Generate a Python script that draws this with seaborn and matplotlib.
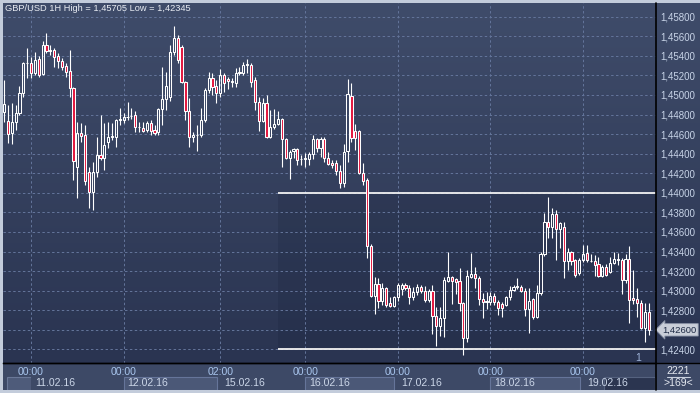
import numpy as np
import pandas as pd
import matplotlib
matplotlib.use("Agg")
import matplotlib.pyplot as plt
import seaborn as sns
from matplotlib.colors import LinearSegmentedColormap
from matplotlib.patches import Rectangle
from matplotlib.lines import Line2D
from matplotlib.ticker import FuncFormatter

# ---------------- data (GBP/USD, 1H candles) ----------------
opens = [
    1.44826, 1.44738, 1.44612, 1.44724, 1.44816, 1.45020, 1.45322, 1.45327, 1.45225, 1.45368,
    1.45215, 1.45511, 1.45450, 1.45460, 1.45399, 1.45348, 1.45296, 1.45245, 1.45072, 1.44264,
    1.44612, 1.44591, 1.44213, 1.44009, 1.44213, 1.44387, 1.44356, 1.44520, 1.44571, 1.44571,
    1.44745, 1.44745, 1.44775, 1.44785, 1.44796, 1.44673, 1.44663, 1.44642, 1.44714, 1.44642,
    1.44622, 1.44857, 1.44959, 1.44980, 1.45440, 1.45583, 1.45491, 1.45133, 1.44837, 1.44571,
    1.44591, 1.44591, 1.44745, 1.45051, 1.45174, 1.45092, 1.45020,
    1.45205, 1.45164, 1.45133, 1.45123, 1.45225, 1.45225, 1.45307, 1.45307, 1.45153, 1.44928,
    1.44734, 1.44918, 1.44571, 1.44673, 1.44704, 1.44755, 1.44550, 1.44356, 1.44428, 1.44448,
    1.44346, 1.44346, 1.44346, 1.44397, 1.44550, 1.44458, 1.44550, 1.44356, 1.44305, 1.44305,
    1.44223, 1.44101, 1.44428, 1.44990, 1.44632, 1.44632, 1.44203, 1.44131, 1.43457, 1.42946,
    1.43069, 1.42895, 1.43028, 1.42874, 1.42844, 1.42936, 1.43018, 1.43058, 1.43028, 1.42936,
    1.42987, 1.43038, 1.42997, 1.42905, 1.42997,
    1.42742, 1.42640, 1.42721, 1.43099, 1.43140, 1.43120, 1.43099, 1.42874, 1.42517, 1.43140,
    1.43171, 1.43130, 1.42915, 1.42885, 1.42885, 1.42946, 1.42885, 1.42864, 1.42854, 1.42936,
    1.43007, 1.43038, 1.43038, 1.42997, 1.42813, 1.42915, 1.42731, 1.42977, 1.43375, 1.43702,
    1.43651, 1.43784, 1.43631, 1.43651, 1.43304, 1.43395, 1.43314, 1.43181, 1.43314, 1.43385,
    1.43304, 1.43304, 1.43273, 1.43150, 1.43242, 1.43191, 1.43283, 1.43314, 1.43314, 1.43110,
    1.43324, 1.42926, 1.42915, 1.42874, 1.42619, 1.42782,
]
highs = [
    1.45153, 1.44898, 1.44918, 1.44898, 1.45092, 1.45337, 1.45480, 1.45388, 1.45440, 1.45399,
    1.45552, 1.45634, 1.45511, 1.45480, 1.45429, 1.45378, 1.45327, 1.45460, 1.45082, 1.44724,
    1.44714, 1.44693, 1.44264, 1.44315, 1.44571, 1.44796, 1.44714, 1.44724, 1.44714, 1.44755,
    1.44867, 1.44816, 1.44928, 1.44867, 1.44837, 1.44724, 1.44724, 1.44734, 1.44745, 1.44693,
    1.44867, 1.45286, 1.45235, 1.45511, 1.45705, 1.45613, 1.45511, 1.45143, 1.44969, 1.44622,
    1.44693, 1.44867, 1.45072, 1.45235, 1.45225, 1.45153, 1.45266,
    1.45225, 1.45184, 1.45174, 1.45276, 1.45286, 1.45337, 1.45368, 1.45327, 1.45184, 1.44980,
    1.44969, 1.45000, 1.44847, 1.44857, 1.44837, 1.44765, 1.44561, 1.44438, 1.44458, 1.44458,
    1.44387, 1.44407, 1.44417, 1.44591, 1.44561, 1.44571, 1.44571, 1.44417, 1.44336, 1.44336,
    1.44285, 1.44499, 1.45164, 1.45123, 1.44704, 1.44642, 1.44305, 1.44152, 1.43477, 1.43140,
    1.43130, 1.43079, 1.43038, 1.42936, 1.42946, 1.43079, 1.43079, 1.43079, 1.43058, 1.43038,
    1.43069, 1.43058, 1.43048, 1.43018, 1.43058,
    1.42834, 1.42834, 1.43140, 1.43395, 1.43150, 1.43130, 1.43232, 1.42885, 1.43212, 1.43385,
    1.43242, 1.43150, 1.42977, 1.42987, 1.42987, 1.42977, 1.42905, 1.42885, 1.42946, 1.43048,
    1.43058, 1.43130, 1.43058, 1.43028, 1.43028, 1.42926, 1.43058, 1.43395, 1.43794, 1.43958,
    1.43845, 1.43825, 1.43702, 1.43702, 1.43436, 1.43406, 1.43324, 1.43334, 1.43467, 1.43467,
    1.43375, 1.43365, 1.43344, 1.43263, 1.43273, 1.43344, 1.43395, 1.43385, 1.43334, 1.43375,
    1.43457, 1.43212, 1.43028, 1.42905, 1.42874, 1.42874,
]
lows = [
    1.44724, 1.44510, 1.44499, 1.44642, 1.44796, 1.44980, 1.45174, 1.45174, 1.45205, 1.45184,
    1.45205, 1.45429, 1.45409, 1.45286, 1.45276, 1.45256, 1.45184, 1.44980, 1.44131, 1.43948,
    1.44520, 1.44080, 1.43845, 1.43825, 1.44162, 1.44336, 1.44234, 1.44458, 1.44540, 1.44469,
    1.44693, 1.44714, 1.44745, 1.44755, 1.44622, 1.44622, 1.44622, 1.44622, 1.44591, 1.44591,
    1.44591, 1.44693, 1.44847, 1.44939, 1.45409, 1.45327, 1.45123, 1.44745, 1.44469, 1.44520,
    1.44428, 1.44571, 1.44724, 1.45020, 1.45000, 1.44918, 1.44980,
    1.45031, 1.45061, 1.45082, 1.45082, 1.45205, 1.45205, 1.45225, 1.45082, 1.44847, 1.44632,
    1.44724, 1.44561, 1.44561, 1.44653, 1.44693, 1.44264, 1.44346, 1.44142, 1.44356, 1.44285,
    1.44285, 1.44264, 1.44285, 1.44346, 1.44417, 1.44366, 1.44315, 1.44285, 1.44254, 1.44183,
    1.44050, 1.44060, 1.44315, 1.44520, 1.44438, 1.44193, 1.44080, 1.43334, 1.42936, 1.42762,
    1.42823, 1.42854, 1.42834, 1.42834, 1.42834, 1.42895, 1.42956, 1.43007, 1.42864, 1.42905,
    1.42956, 1.42977, 1.42885, 1.42885, 1.42558,
    1.42435, 1.42537, 1.42527, 1.43089, 1.42864, 1.42966, 1.42793, 1.42345, 1.42476, 1.43130,
    1.43028, 1.42854, 1.42721, 1.42813, 1.42854, 1.42854, 1.42752, 1.42731, 1.42844, 1.42905,
    1.42997, 1.43018, 1.42987, 1.42742, 1.42568, 1.42711, 1.42721, 1.42956, 1.43355, 1.43539,
    1.43539, 1.43314, 1.43436, 1.43130, 1.43212, 1.43263, 1.43140, 1.43161, 1.43293, 1.43293,
    1.43293, 1.43150, 1.43140, 1.43140, 1.43150, 1.43181, 1.43273, 1.43263, 1.42966, 1.43079,
    1.42670, 1.42864, 1.42731, 1.42609, 1.42476, 1.42547,
]
closes = [
    1.44908, 1.44601, 1.44724, 1.44816, 1.45020, 1.45327, 1.45327, 1.45225, 1.45358, 1.45205,
    1.45511, 1.45450, 1.45453, 1.45388, 1.45348, 1.45286, 1.45235, 1.45072, 1.44326, 1.44612,
    1.44581, 1.44121, 1.44009, 1.44213, 1.44387, 1.44356, 1.44489, 1.44571, 1.44575, 1.44745,
    1.44750, 1.44775, 1.44780, 1.44790, 1.44673, 1.44668, 1.44632, 1.44714, 1.44632, 1.44612,
    1.44857, 1.44959, 1.45092, 1.45440, 1.45583, 1.45358, 1.45133, 1.44837, 1.44571, 1.44591,
    1.44596, 1.44745, 1.45051, 1.45174, 1.45082, 1.45020, 1.45205,
    1.45123, 1.45143, 1.45138, 1.45225, 1.45230, 1.45307, 1.45312, 1.45133, 1.44928, 1.44734,
    1.44918, 1.44571, 1.44673, 1.44704, 1.44755, 1.44550, 1.44356, 1.44417, 1.44448, 1.44336,
    1.44341, 1.44351, 1.44397, 1.44550, 1.44458, 1.44550, 1.44356, 1.44295, 1.44285, 1.44223,
    1.44101, 1.44417, 1.45010, 1.44561, 1.44561, 1.44203, 1.44121, 1.43457, 1.42946, 1.43069,
    1.42895, 1.43028, 1.42854, 1.42844, 1.42936, 1.43058, 1.43058, 1.43028, 1.42936, 1.42987,
    1.43038, 1.42997, 1.42905, 1.42997, 1.42742,
    1.42640, 1.42721, 1.43110, 1.43140, 1.43099, 1.43089, 1.42874, 1.42517, 1.43150, 1.43171,
    1.43130, 1.42915, 1.42885, 1.42890, 1.42946, 1.42885, 1.42823, 1.42823, 1.42936, 1.43007,
    1.43038, 1.43043, 1.42997, 1.42813, 1.42895, 1.42731, 1.42977, 1.43375, 1.43702, 1.43651,
    1.43784, 1.43631, 1.43692, 1.43304, 1.43395, 1.43304, 1.43161, 1.43314, 1.43375, 1.43314,
    1.43300, 1.43263, 1.43150, 1.43242, 1.43161, 1.43283, 1.43324, 1.43319, 1.43110, 1.43324,
    1.42905, 1.42905, 1.42874, 1.42619, 1.42782, 1.42600,
]

grid_candles = [7, 31, 56, 78, 102, 126, 150]
time_labels = ["00:00", "00:00", "02:00", "00:00", "00:00", "00:00", "00:00"]
date_labels = ["11.02.16", "12.02.16", "15.02.16", "16.02.16", "17.02.16", "18.02.16", "19.02.16"]
price_ticks = [1.424, 1.426, 1.428, 1.430, 1.432, 1.434, 1.436, 1.438, 1.440,
               1.442, 1.444, 1.446, 1.448, 1.450, 1.452, 1.454, 1.456, 1.458]
level_prices = [1.44000, 1.42400]
level_start = 71
title = "GBP/USD 1H High = 1,45705 Low = 1,42345"
last_price = 1.42600
bars_total = "2221"
bars_shown = ">169<"

# ---------------- styling ----------------
sns.set_theme(style="dark")
plt.rcParams['font.family'] = ['Liberation Sans', 'DejaVu Sans']

df = pd.DataFrame({"open": opens, "high": highs, "low": lows, "close": closes})
df["i"] = np.arange(len(df))
df["up"] = df["close"] >= df["open"]
df["blo"] = df[["open", "close"]].min(axis=1)
df["bhi"] = df[["open", "close"]].max(axis=1)
df["bh"] = (df["bhi"] - df["blo"]).clip(lower=0.00005)


def fmt_price(v):
    return f"{v:.5f}".replace('.', ',')


W, H = 700, 393
fig = plt.figure(figsize=(W / 100, H / 100), dpi=100)
fig.patch.set_facecolor('#C3CCDB')


def fbox(x0, y0, x1, y1):
    return [x0 / W, 1 - y1 / H, (x1 - x0) / W, (y1 - y0) / H]


bg_cmap = LinearSegmentedColormap.from_list('bg', ['#2A3451', '#3F4C6A'])
grad = np.linspace(0, 1, 256).reshape(-1, 1)

xlo, xhi = -0.26, 168.9
ylo, yhi = 1.42261, 1.45940

# right price panel background
axr = fig.add_axes(fbox(656, 3, 700, 363), zorder=0)
axr.imshow(grad, aspect='auto', cmap=bg_cmap, origin='lower', extent=[0, 1, 0, 1])
axr.set_axis_off()

# bottom time band
axb = fig.add_axes(fbox(3, 363, 656, 390), zorder=0.5)
axb.set_xlim(xlo, xhi)
axb.set_ylim(27, 0)
axb.set_axis_off()
axb.add_patch(Rectangle((xlo, 0), xhi - xlo, 27, fc='#3D4966', lw=0))
axb.add_patch(Rectangle((0.85, 13.6), grid_candles[0] - 0.85 - 0.1, 13.4,
                        fc='#4E5B7A', ec='#6A7898', lw=0.8))
for k, (start, lab) in enumerate(zip(grid_candles, date_labels)):
    end = grid_candles[k + 1] - 0.9 if k + 1 < len(grid_candles) else start + 5.4
    light = (k % 2 == 1)
    axb.add_patch(Rectangle((start, 13.6), end - start, 13.4,
                            fc='#4B5877' if light else '#3D4966',
                            ec='#66759A' if light else '#3D4966', lw=0.8))
for start, lab in zip(grid_candles, date_labels):
    axb.text(start + 1.0, 20.4, lab, fontsize=7.6, color='#CBD6E8', va='center', ha='left')
axb.add_patch(Rectangle((grid_candles[-1] + 5.4, 13.6), xhi - grid_candles[-1] - 5.6, 13.4,
                        fc='#2B3550', ec='#55627F', lw=0.8))

# corner panel
fig.patches.append(Rectangle((656 / W, 1 - 390 / H), 44 / W, 27 / H,
                             transform=fig.transFigure, fc='#3D4966', lw=0, zorder=0))

# main chart
ax = fig.add_axes(fbox(3, 3, 656, 363), zorder=2)
ax.imshow(grad, aspect='auto', cmap=bg_cmap, origin='lower',
          extent=[xlo, xhi, ylo, yhi], zorder=0)
ax.add_patch(Rectangle((level_start, level_prices[1]), xhi - level_start,
                       level_prices[0] - level_prices[1], fc='#18223A', alpha=0.22,
                       lw=0, zorder=0.2))
ax.set_xlim(xlo, xhi)
ax.set_ylim(ylo, yhi)
ax.set_xticks(grid_candles)
ax.set_xticklabels(time_labels)
ax.set_yticks(price_ticks)
# the last-price marker replaces the tick label at the same level
ax.yaxis.set_major_formatter(FuncFormatter(
    lambda v, p: '' if abs(v - last_price) < 1e-7 else fmt_price(v)))
ax.yaxis.tick_right()
ax.grid(True, color='#64759B', linestyle=(0, (2.5, 2.5)), linewidth=0.7)
ax.set_axisbelow(True)
ax.tick_params(axis='y', length=0, pad=3, labelsize=7, labelcolor='#C8D4E8',
               right=True, left=False, labelright=True, labelleft=False)
ax.tick_params(axis='x', length=0, pad=2.6, labelsize=7.6, labelcolor='#A9C6EE')
for s in ax.spines.values():
    s.set_visible(False)
ax.spines['bottom'].set_visible(True)
ax.spines['bottom'].set_color('black')
ax.spines['bottom'].set_linewidth(1.0)

# level lines
ax.hlines(level_prices, level_start, xhi, colors='#F2F2F2', linewidth=1.3, zorder=3)

# candles: wicks then bodies
ax.vlines(df["i"], df["bhi"], df["high"], color='white', linewidth=0.8, zorder=4)
ax.vlines(df["i"], df["low"], df["blo"], color='white', linewidth=0.8, zorder=4)
upd = df[df["up"]]
dnd = df[~df["up"]]
ax.bar(upd["i"], upd["bh"], bottom=upd["blo"], width=0.56, facecolor='none',
       edgecolor='white', linewidth=0.75, zorder=5)
ax.bar(dnd["i"], dnd["bh"], bottom=dnd["blo"], width=0.56, facecolor='#E3173F',
       edgecolor='white', linewidth=0.75, zorder=5)

ax.text(164.2, yhi - (358 - 3) / 360 * (yhi - ylo), "1", fontsize=7.5, color='#9FB3D8',
        ha='center', va='center', zorder=6)

# separators
fig.lines.append(Line2D([3 / W, 1], [1 - 363 / H] * 2, transform=fig.transFigure,
                        color='black', linewidth=1.0, zorder=5))
fig.lines.append(Line2D([656 / W] * 2, [1 - 3 / H, 1 - 390 / H], transform=fig.transFigure,
                        color='black', linewidth=1.2, zorder=5))

# corner counters
fig.text(678 / W, 1 - 370.5 / H, bars_total, fontsize=7.5, color='#E4E8F0',
         ha='center', va='center', zorder=6)
fig.lines.append(Line2D([667 / W, 690 / W], [1 - 377 / H] * 2, transform=fig.transFigure,
                        color='#C8D0DE', linewidth=0.8, zorder=6))
fig.text(678 / W, 1 - 383.5 / H, bars_shown, fontsize=7.5, color='#E4E8F0',
         ha='center', va='center', zorder=6)

# last price marker
ax.annotate(fmt_price(last_price), xy=(1.0, last_price), xycoords=('axes fraction', 'data'),
            xytext=(4.5, 0), textcoords='offset points', fontsize=6.8, color='#1E2A44',
            ha='left', va='center', annotation_clip=False, zorder=7,
            bbox=dict(boxstyle='larrow,pad=0.18', fc='#C9CED8', ec='#8C95A8', lw=0.6))

# title
fig.text(5 / W, 1 - 8.5 / H, title, fontsize=6.7, color='#E8ECF3',
         ha='left', va='center', zorder=7)

fig.savefig("out.png", dpi=100, facecolor=fig.get_facecolor())
